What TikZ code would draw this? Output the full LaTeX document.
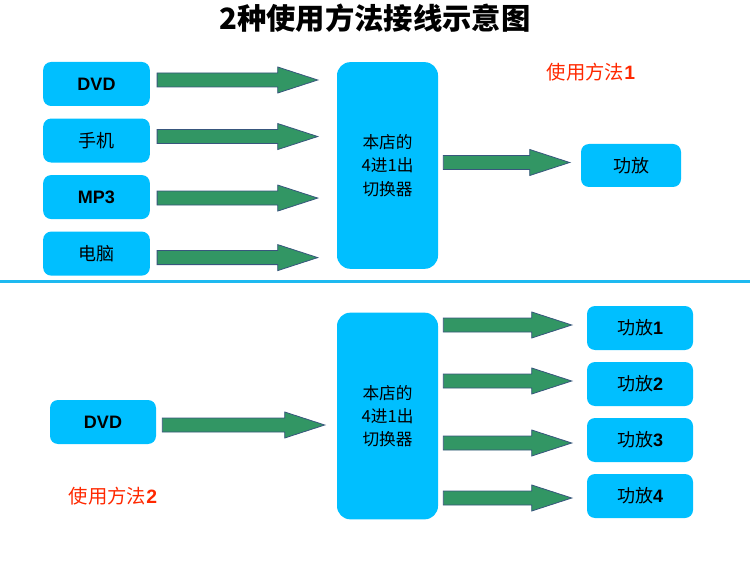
\documentclass[tikz,border=0pt]{standalone}
\usepackage{fontspec}
\setmainfont{Liberation Sans}
\newfontfamily\cjk{Noto Sans CJK SC}
\usetikzlibrary{positioning,calc}

\definecolor{boxblue}{RGB}{0,191,255}
\definecolor{arrowgreen}{RGB}{50,150,100}
\definecolor{arrowedge}{RGB}{56,86,125}
\definecolor{labelred}{RGB}{255,40,0}
\definecolor{lineblue}{RGB}{30,185,240}

\tikzset{
  source/.style={fill=boxblue, rounded corners=6pt, minimum width=80pt, minimum height=33pt, inner sep=0pt, font=\fontsize{13.5}{16}\selectfont},
  switcher/.style={fill=boxblue, rounded corners=10pt, minimum width=75.75pt, minimum height=155pt, inner sep=0pt, align=center, font=\cjk\fontsize{12.5}{17.5}\selectfont},
  amp/.style={source, minimum width=79.5pt},
  fatarrow/.style={fill=arrowgreen, draw=arrowedge, line width=0.6pt},
  note/.style={text=labelred, font=\fontsize{14.5}{17}\selectfont}
}

% thick green arrow, y taken from the start point
\newcommand{\blockarrow}[2]{%
  \filldraw[fatarrow] let \p1=(#1), \p2=(#2) in
    (\x1,\y1+5.25pt) -- (\x2-30pt,\y1+5.25pt) -- (\x2-30pt,\y1+9.75pt) -- (\x2,\y1)
    -- (\x2-30pt,\y1-9.75pt) -- (\x2-30pt,\y1-5.25pt) -- (\x1,\y1-5.25pt) -- cycle;}

\begin{document}
\begin{tikzpicture}[x=0.75pt, y=-0.75pt, node distance=9pt]
  \useasboundingbox (0,0) rectangle (750,563);

  \node[font=\cjk\bfseries\fontsize{22}{26}\selectfont] (title) at (375,18) {2种使用方法接线示意图};

  % method 1
  \node[source] (dvd) at (96.5,84) {\textbf{DVD}};
  \node[source, below=of dvd] (phone) {\cjk 手机};
  \node[source, below=of phone] (mp3) {\textbf{MP3}};
  \node[source, below=of mp3] (pc) {\cjk 电脑};
  \node[switcher] (switchA) at (387.5,165.5) {本店的\\4进1出\\切换器};
  \node[amp, minimum width=75pt, minimum height=32.25pt] (ampA) at (631,165.5) {\cjk 功放};
  \node[note] (noteA) at (591,72) {{\cjk 使用方法}\textbf{1}};

  \blockarrow{$(dvd.east)+(7,-4)$}{$(switchA.west)+(-19,0)$}
  \blockarrow{$(phone.east)+(7,-4)$}{$(switchA.west)+(-19,0)$}
  \blockarrow{$(mp3.east)+(7,1)$}{$(switchA.west)+(-19,0)$}
  \blockarrow{$(pc.east)+(7,4)$}{$(switchA.west)+(-19,0)$}
  \blockarrow{$(switchA.east)+(5,-3)$}{$(ampA.west)+(-11,0)$}

  % divider
  \draw[lineblue, line width=2.25pt] (0,281) coordinate (lineL) -- (750,281) coordinate (lineR);

  % method 2
  \node[source, minimum width=79.5pt] (dvdB) at (103,422) {\textbf{DVD}};
  \node[switcher] (switchB) at (387.5,416) {本店的\\4进1出\\切换器};
  \node[amp] (amp1) at (640,328) {{\cjk 功放}\textbf{1}};
  \node[amp, below=8.6pt of amp1] (amp2) {{\cjk 功放}\textbf{2}};
  \node[amp, below=8.6pt of amp2] (amp3) {{\cjk 功放}\textbf{3}};
  \node[amp, below=8.6pt of amp3] (amp4) {{\cjk 功放}\textbf{4}};
  \node[note] (noteB) at (113,496) {{\cjk 使用方法}\textbf{2}};

  \blockarrow{$(dvdB.east)+(6,3)$}{$(switchB.west)+(-12,0)$}
  \blockarrow{$(switchB.east |- amp1.west)+(5,-3)$}{$(amp1.west)+(-15,0)$}
  \blockarrow{$(switchB.east |- amp2.west)+(5,-3)$}{$(amp2.west)+(-15,0)$}
  \blockarrow{$(switchB.east |- amp3.west)+(5,3)$}{$(amp3.west)+(-15,0)$}
  \blockarrow{$(switchB.east |- amp4.west)+(5,2)$}{$(amp4.west)+(-15,0)$}
\end{tikzpicture}
\end{document}
